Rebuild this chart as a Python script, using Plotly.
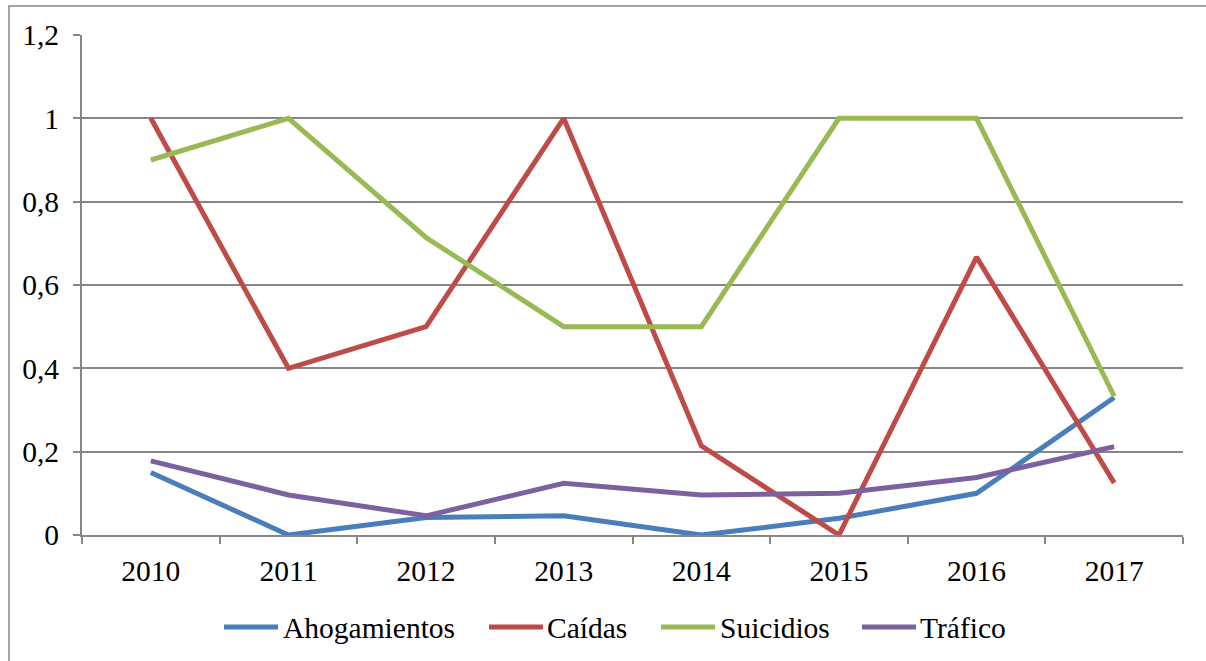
import plotly.graph_objects as go

years = ["2010", "2011", "2012", "2013", "2014", "2015", "2016", "2017"]
ahogamientos = [0.15, 0.0, 0.042, 0.046, 0.0, 0.04, 0.1, 0.33]
caidas = [1.0, 0.4, 0.5, 1.0, 0.214, 0.0, 0.667, 0.125]
suicidios = [0.9, 1.0, 0.714, 0.5, 0.5, 1.0, 1.0, 0.333]
trafico = [0.178, 0.096, 0.046, 0.124, 0.096, 0.1, 0.138, 0.212]

series_names = ["Ahogamientos", "Caídas", "Suicidios", "Tráfico"]
series_values = [ahogamientos, caidas, suicidios, trafico]
series_colors = ["#4A7EBB", "#BE4B48", "#98B954", "#7D60A0"]

FONT = "Liberation Serif"
FS = 29.5
LW = 5

W, H = 1206, 661
L, R, T, B = 82, 23, 35, 126
pw, ph = W - L - R, H - T - B

def px_x(p):
    return (p - L) / pw

def px_y(p):
    return (H - B - p) / ph

fig = go.Figure()
for name, vals, col in zip(series_names, series_values, series_colors):
    fig.add_trace(go.Scatter(x=years, y=vals, name=name, mode="lines",
                             line=dict(color=col, width=LW), showlegend=False,
                             hoverinfo="skip"))

# outer chart border
fig.add_shape(type="rect", xref="paper", yref="paper",
              x0=px_x(9), x1=px_x(1215), y0=px_y(670), y1=px_y(6),
              line=dict(color="#868686", width=1.5), fillcolor="rgba(0,0,0,0)",
              layer="below")

# manual legend (Excel style: long line samples)
legend_sample_x = [224, 489, 661, 862]
legend_text_x = [281, 545, 718, 918]
legend_y = 627
for name, col, sx, tx in zip(series_names, series_colors, legend_sample_x, legend_text_x):
    fig.add_shape(type="line", xref="paper", yref="paper",
                  x0=px_x(sx), x1=px_x(sx + 54), y0=px_y(legend_y), y1=px_y(legend_y),
                  line=dict(color=col, width=LW))
    fig.add_annotation(xref="paper", yref="paper", x=px_x(tx), y=px_y(legend_y + 1),
                       xanchor="left", yanchor="middle", text=name, showarrow=False,
                       font=dict(family=FONT, size=FS, color="black"))

fig.update_layout(
    width=W, height=H,
    margin=dict(l=L, r=R, t=T, b=B, pad=0, autoexpand=False),
    paper_bgcolor="white", plot_bgcolor="white",
    separators=",.",
    font=dict(family=FONT, size=FS, color="black"),
    showlegend=False,
    xaxis=dict(type="category", showgrid=False, showline=True,
               linecolor="#868686", linewidth=2,
               ticks="outside", ticklen=7, tickcolor="#868686", tickwidth=2,
               tickson="boundaries", ticklabelstandoff=9,
               tickfont=dict(family=FONT, size=FS, color="black"),
               range=[-0.5, 7.5]),
    yaxis=dict(range=[0, 1.2], dtick=0.2, tick0=0, showgrid=True,
               gridcolor="#868686", gridwidth=2, zeroline=False,
               showline=True, linecolor="#868686", linewidth=2,
               ticks="outside", ticklen=7, tickcolor="#868686", tickwidth=2,
               ticklabelstandoff=8,
               tickfont=dict(family=FONT, size=FS, color="black")),
)

fig.write_html("out.html", config={"displayModeBar": False},
               post_script="document.body.style.margin='0';document.body.style.overflow='hidden';")
